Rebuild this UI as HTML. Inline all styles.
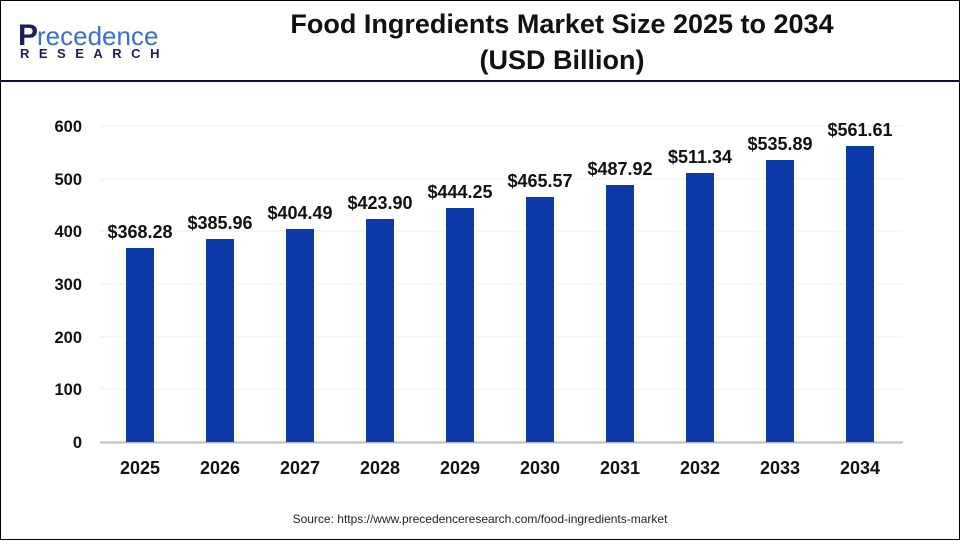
<!DOCTYPE html>
<html><head><meta charset="utf-8"><style>
body{margin:0;width:960px;height:540px;overflow:hidden;background:#fff;font-family:"Liberation Sans",Arial,sans-serif}
</style></head><body>
<svg width="960" height="540" xmlns="http://www.w3.org/2000/svg" font-family="Liberation Sans, Arial, sans-serif">
<rect x="0.5" y="0.5" width="959" height="539" fill="#fff" stroke="#000" stroke-width="1"/>
<line x1="0" y1="81" x2="960" y2="81" stroke="#0a0f3c" stroke-width="2"/>
<text x="18" y="45" font-size="30" fill="#1a1f5c" font-weight="bold">P</text>
<text x="37" y="45" font-size="26" fill="#3a6fd8">recedence</text>
<text x="20" y="58" font-size="13" fill="#1a1f5c" font-weight="bold" letter-spacing="9.5">RESEARCH</text>
<text x="562" y="33" font-size="27" font-weight="bold" text-anchor="middle" fill="#111">Food Ingredients Market Size 2025 to 2034</text>
<text x="562" y="69" font-size="27" font-weight="bold" text-anchor="middle" fill="#111">(USD Billion)</text>
<g stroke="#ececec" stroke-width="1">
<line x1="100" y1="126" x2="903" y2="126"/><line x1="100" y1="179" x2="903" y2="179"/>
<line x1="100" y1="231" x2="903" y2="231"/><line x1="100" y1="284" x2="903" y2="284"/>
<line x1="100" y1="337" x2="903" y2="337"/><line x1="100" y1="389" x2="903" y2="389"/>
</g>
<line x1="100" y1="442.5" x2="903" y2="442.5" stroke="#bbb" stroke-width="2"/>
<g font-size="16.5" font-weight="bold" fill="#111" text-anchor="end">
<text x="82" y="132">600</text><text x="82" y="185">500</text><text x="82" y="237">400</text>
<text x="82" y="290">300</text><text x="82" y="343">200</text><text x="82" y="395">100</text><text x="82" y="448">0</text>
</g>
<g fill="#0d3aa9">
<rect x="126" y="248" width="28" height="194"/>
<rect x="206" y="239" width="28" height="203"/>
<rect x="286" y="229" width="28" height="213"/>
<rect x="366" y="219" width="28" height="223"/>
<rect x="446" y="208" width="28" height="234"/>
<rect x="526" y="197" width="28" height="245"/>
<rect x="606" y="185" width="28" height="257"/>
<rect x="686" y="173" width="28" height="269"/>
<rect x="766" y="160" width="28" height="282"/>
<rect x="846" y="146" width="28" height="296"/>
</g>
<g font-size="18" font-weight="bold" fill="#111" text-anchor="middle">
<text x="140" y="238">$368.28</text><text x="220" y="229">$385.96</text><text x="300" y="219">$404.49</text>
<text x="380" y="209">$423.90</text><text x="460" y="198">$444.25</text><text x="540" y="187">$465.57</text>
<text x="620" y="175">$487.92</text><text x="700" y="163">$511.34</text><text x="780" y="150">$535.89</text>
<text x="860" y="136">$561.61</text>
</g>
<g font-size="18" font-weight="bold" fill="#111" text-anchor="middle">
<text x="140" y="474">2025</text><text x="220" y="474">2026</text><text x="300" y="474">2027</text>
<text x="380" y="474">2028</text><text x="460" y="474">2029</text><text x="540" y="474">2030</text>
<text x="620" y="474">2031</text><text x="700" y="474">2032</text><text x="780" y="474">2033</text>
<text x="860" y="474">2034</text>
</g>
<text x="480" y="523" font-size="12" fill="#222" text-anchor="middle">Source: https://www.precedenceresearch.com/food-ingredients-market</text>
</svg>
</body></html>
